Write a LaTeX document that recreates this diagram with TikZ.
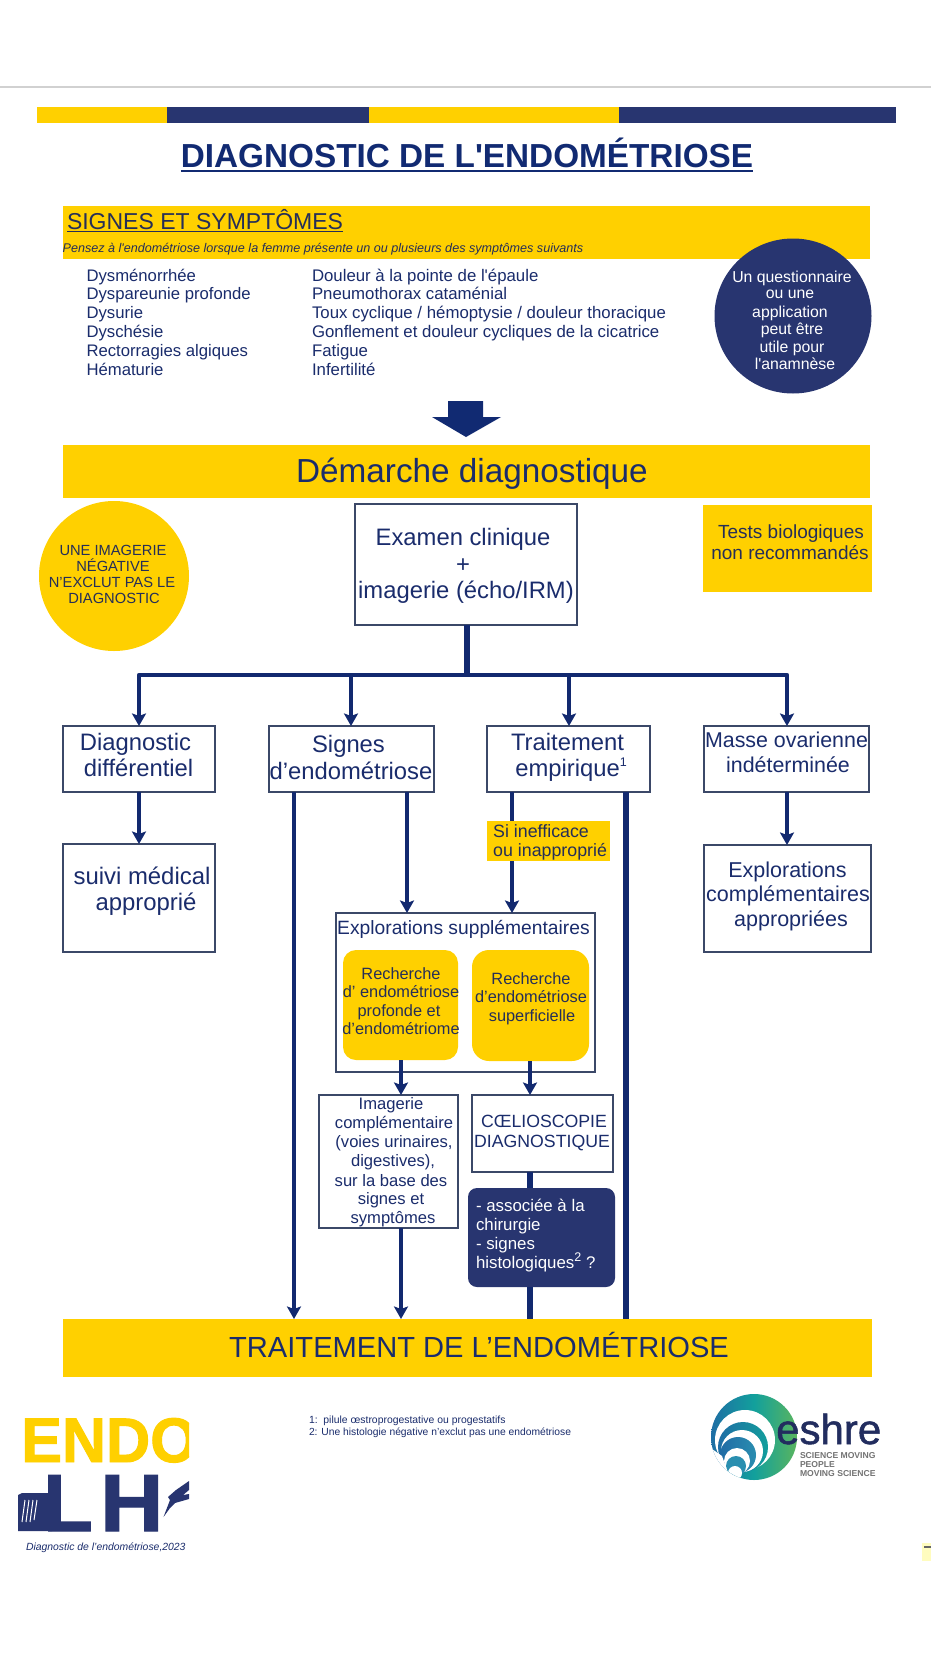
\documentclass[tikz,border=0pt]{standalone}
\usepackage{fontspec}
\setmainfont{Liberation Sans}[Ligatures=TeXOff]
\newfontfamily\eshrefont[FakeBold=1.2]{Liberation Sans}
\newfontfamily\endofont[FakeBold=1.5]{Liberation Sans Bold}
\usetikzlibrary{arrows.meta,shapes.geometric}
\definecolor{ink}{HTML}{1A2C6C}
\definecolor{darkink}{HTML}{252E58}
\definecolor{titleink}{HTML}{112A72}
\definecolor{gold}{HTML}{FFD000}
\definecolor{navy}{HTML}{283570}
\definecolor{wire}{HTML}{12296F}
\definecolor{edge}{HTML}{3B4868}
\definecolor{esblue}{HTML}{1F6AA5}
\definecolor{esteal}{HTML}{12A09C}
\definecolor{esgreen}{HTML}{5FB65A}
\definecolor{esmid}{HTML}{2A8FB0}
\newcommand\fs[1]{\fontsize{#1}{#1}\selectfont}
\newcommand\smallsup[1]{\raisebox{0.42em}{\fs{12.5}#1}}
\newcommand\bx[6]{\node[#6,inner sep=0pt,outer sep=0pt,minimum width={(#4-#2)*1pt},minimum height={(#5-#3)*1pt}] (#1) at ({(#2+#4)/2},{(#3+#5)/2}) {};}
\tikzset{
  tx/.style={inner sep=0pt,outer sep=0pt,anchor=mid,text=ink},
  txl/.style={tx,anchor=mid west},
  band/.style={fill=gold},
  plainbox/.style={draw=edge,line width=1.8pt,fill=white},
  wireline/.style={draw=wire,line width=4.5pt},
  wirearrow/.style={wireline,-{Stealth[width=14pt,length=12.5pt,inset=2.5pt]}},
}
\begin{document}
\begin{tikzpicture}[x=1pt,y=-1pt]
\useasboundingbox (0,0) rectangle (931,1654);
\fill[white] (0,0) rectangle (931,1654);
\draw[draw=black!18,line width=2pt] (0,87) -- (931,87);
% stripe
\fill[gold] (36.8,107) rectangle (167,122.5);
\fill[navy] (167,107) rectangle (368.7,122.5);
\fill[gold] (368.7,107) rectangle (619,122.5);
\fill[navy] (619,107) rectangle (895.7,122.5);
% title
\node[inner sep=0pt,outer sep=0pt,anchor=base,text=titleink,font=\fs{33.3}\bfseries] (title) at (467,167) {DIAGNOSTIC DE L'ENDOMÉTRIOSE};
\draw[titleink,line width=2pt] ([yshift=-4pt]title.base west) -- ([yshift=-4pt]title.base east);
% signes
\bx{signsband}{62.6}{206}{869.5}{259}{band}
\node[inner sep=0pt,outer sep=0pt,anchor=base west,text=darkink,font=\fs{23}] (signstitle) at (67,229) {SIGNES ET SYMPTÔMES};
\draw[darkink,line width=1pt] ([yshift=-2.5pt]signstitle.base west) -- ([yshift=-2.5pt]signstitle.base east);
\node[inner sep=0pt,outer sep=0pt,anchor=base west,text=darkink,font=\fs{12.6}\itshape] (signsnote) at (62.6,252) {Pensez à l'endométriose lorsque la femme présente un ou plusieurs des symptômes suivants};
\node[txl,font=\fs{16.7}] (a1) at (86.5,278.5) {Dysménorrhée};
\node[txl,font=\fs{16.7}] (a2) at (86.5,296.5) {Dyspareunie profonde};
\node[txl,font=\fs{16.7}] (a3) at (86.5,315.5) {Dysurie};
\node[txl,font=\fs{16.7}] (a4) at (86.5,334.5) {Dyschésie};
\node[txl,font=\fs{16.7}] (a5) at (86.5,353.5) {Rectorragies algiques};
\node[txl,font=\fs{16.7}] (a6) at (86.5,372.5) {Hématurie};
\node[txl,font=\fs{16.8}] (b1) at (312,278.5) {Douleur à la pointe de l'épaule};
\node[txl,font=\fs{16.8}] (b2) at (312,296.5) {Pneumothorax cataménial};
\node[txl,font=\fs{16.8}] (b3) at (312,315.5) {Toux cyclique / hémoptysie / douleur thoracique};
\node[txl,font=\fs{16.8}] (b4) at (312,334.5) {Gonflement et douleur cycliques de la cicatrice};
\node[txl,font=\fs{16.8}] (b5) at (312,353.5) {Fatigue};
\node[txl,font=\fs{16.8}] (b6) at (312,372.5) {Infertilité};
% navy ellipse
\node[ellipse,fill=navy,inner sep=0pt,minimum width=157pt,minimum height=155pt] (quest) at (793,316) {};
\node[tx,text=white,font=\fs{15.8}] (q1) at (792,279.5) {Un questionnaire};
\node[tx,text=white,font=\fs{15.8}] (q2) at (790,295.5) {ou une};
\node[tx,text=white,font=\fs{15.8}] (q3) at (790,314.5) {application};
\node[tx,text=white,font=\fs{15.8}] (q4) at (792,331.5) {peut être};
\node[tx,text=white,font=\fs{15.8}] (q5) at (792,349.5) {utile pour};
\node[tx,text=white,font=\fs{15.8}] (q6) at (795,366.5) {l'anamnèse};
% block arrow
\fill[titleink] (448,401) -- (483,401) -- (483,417) -- (501,417) -- (466,437) -- (432,417) -- (448,417) -- cycle;
% demarche
\bx{demband}{62.6}{445}{869.5}{498}{band}
\node[tx,font=\fs{33.3}] (demtext) at (472,480) {Démarche diagnostique};
% yellow circle
\node[circle,fill=gold,inner sep=0pt,minimum size=150pt] (neg) at (114,576) {};
\node[tx,text=darkink,font=\fs{14.7}] (n1) at (113,552.5) {UNE IMAGERIE};
\node[tx,text=darkink,font=\fs{14.7}] (n2) at (113,568.5) {NÉGATIVE};
\node[tx,text=darkink,font=\fs{14.7}] (n3) at (112,585) {N’EXCLUT PAS LE};
\node[tx,text=darkink,font=\fs{14.7}] (n4) at (114,601) {DIAGNOSTIC};
% tests
\bx{tests}{703}{505}{871.7}{592}{band}
\node[inner sep=0pt,anchor=base,text=darkink,font=\fs{19}] (t1) at (791,538) {Tests biologiques};
\node[inner sep=0pt,anchor=base,text=darkink,font=\fs{19}] (t2) at (790,559) {non recommandés};
% main boxes
\coordinate (sigL) at (294,1000);
\coordinate (sigR) at (407,1000);
\coordinate (traL) at (512,1000);
\coordinate (traR) at (626,1000);
\coordinate (deep) at (401,1000);
\coordinate (surf) at (530,1000);
\bx{exam}{355}{504}{577}{625}{plainbox}
\bx{diff}{63}{726}{215}{792}{plainbox}
\bx{sign}{269}{726}{434}{792}{plainbox}
\bx{trait}{487}{726}{650}{792}{plainbox}
\bx{masse}{704}{726}{869}{792}{plainbox}
\bx{suivi}{63}{844}{215}{952}{plainbox}
\bx{explc}{704}{845}{871}{952}{plainbox}
\bx{expls}{336}{913}{595}{1072}{plainbox}
\bx{imag}{319}{1095}{458}{1228}{plainbox}
\bx{coel}{472}{1095}{613}{1172}{plainbox}
\bx{treat}{63}{1319}{871.7}{1376.7}{band}
\coordinate (hub) at (467,675);
\coordinate (hubD) at (139,675);
\coordinate (hubS) at (351,675);
\coordinate (hubT) at (569,675);
\coordinate (hubM) at (787,675);
% connectors
\draw[wireline,line width=5.5pt] (exam.south -| hub) -- (hub);
\draw[wireline,line cap=round,line join=round] (hubD |- diff.north) ++(0,-8) -- (hubD) -- (hubM) -- ++(0,20);
\draw[wirearrow] (hubD) -- (hubD |- diff.north);
\draw[wirearrow] (hubS) -- (hubS |- sign.north);
\draw[wirearrow] (hubT) -- (hubT |- trait.north);
\draw[wirearrow] (hubM) -- (hubM |- masse.north);
\draw[wirearrow] (hubD |- diff.south) -- (hubD |- suivi.north);
\draw[wirearrow] (hubM |- masse.south) -- (hubM |- explc.north);
\draw[wirearrow] (sigL |- sign.south) -- (sigL |- treat.north);
\draw[wirearrow] (sigR |- sign.south) -- (sigR |- expls.north);
\draw[wirearrow] (traL |- trait.south) -- (traL |- expls.north);
\draw[wireline,line width=5.5pt] (traR |- trait.south) -- (traR |- treat.north);
% suppl inner
\bx{deepbox}{343}{950}{458}{1060}{band,rounded corners=13pt}
\bx{surfbox}{472}{950}{589}{1061}{band,rounded corners=17pt}
\draw[wirearrow] (deep |- deepbox.south) -- (deep |- imag.north);
\draw[wirearrow] (surf |- surfbox.south) -- (surf |- coel.north);
\bx{assoc}{468}{1188}{615}{1287}{fill=navy,rounded corners=9pt}
\draw[wireline,line width=5.5pt] (surf |- coel.south) -- (surf |- assoc.north);
\draw[wireline,line width=5.5pt] (surf |- assoc.south) -- (surf |- treat.north);
\draw[wirearrow] (deep |- imag.south) -- (deep |- treat.north);
% si inefficace
\bx{ifbox}{487}{821}{610}{861}{band}
\node[inner sep=0pt,anchor=base west,text=darkink,font=\fs{17.8}] (if1) at (493,837) {Si inefficace};
\node[inner sep=0pt,anchor=base west,text=darkink,font=\fs{17.8}] (if2) at (493,856.5) {ou inapproprié};
% box texts
\node[inner sep=0pt,anchor=base,text=ink,font=\fs{23.8}] (e1) at (463,545) {Examen clinique};
\node[inner sep=0pt,anchor=base,text=ink,font=\fs{23.8}] (e2) at (463,572) {+};
\node[inner sep=0pt,anchor=base,text=ink,font=\fs{23.8}] (e3) at (466,598) {imagerie (écho/IRM)};
\node[inner sep=0pt,anchor=base,text=ink,font=\fs{23.8}] (d1) at (135.5,750) {Diagnostic};
\node[inner sep=0pt,anchor=base,text=ink,font=\fs{23.8}] (d2) at (138.5,776) {différentiel};
\node[inner sep=0pt,anchor=base,text=ink,font=\fs{23.8}] (s1) at (348.5,752) {Signes};
\node[inner sep=0pt,anchor=base,text=ink,font=\fs{23.8}] (s2) at (351,779) {d’endométriose};
\node[inner sep=0pt,anchor=base,text=ink,font=\fs{23.8}] (tr1) at (567.5,750) {Traitement};
\node[inner sep=0pt,anchor=base,text=ink,font=\fs{23.8}] (tr2) at (571,776) {empirique\smallsup{1}};
\node[inner sep=0pt,anchor=base,text=ink,font=\fs{21.4}] (m1) at (786.5,747) {Masse ovarienne};
\node[inner sep=0pt,anchor=base,text=ink,font=\fs{21.4}] (m2) at (788,772) {indéterminée};
\node[inner sep=0pt,anchor=base,text=ink,font=\fs{23.9}] (v1) at (142,884) {suivi médical};
\node[inner sep=0pt,anchor=base,text=ink,font=\fs{23.9}] (v2) at (146,910) {approprié};
\node[inner sep=0pt,anchor=base,text=ink,font=\fs{21.5}] (c1) at (787.5,877) {Explorations};
\node[inner sep=0pt,anchor=base,text=ink,font=\fs{21.5}] (c2) at (788,901) {complémentaires};
\node[inner sep=0pt,anchor=base,text=ink,font=\fs{21.5}] (c3) at (791,926) {appropriées};
\node[inner sep=0pt,anchor=base,text=ink,font=\fs{19.25}] (x0) at (463.5,934) {Explorations supplémentaires};
\node[tx,text=darkink,font=\fs{16.35}] (r1) at (401,976.5) {Recherche};
\node[tx,text=darkink,font=\fs{16.35}] (r2) at (401,995) {d’ endométriose};
\node[tx,text=darkink,font=\fs{16.35}] (r3) at (399,1014) {profonde et};
\node[tx,text=darkink,font=\fs{16.35}] (r4) at (401,1032) {d’endométriome};
\node[tx,text=darkink,font=\fs{16.35}] (u1) at (531,982) {Recherche};
\node[tx,text=darkink,font=\fs{16.35}] (u2) at (531,1000) {d’endométriose};
\node[tx,text=darkink,font=\fs{16.35}] (u3) at (532,1019) {superficielle};
\node[tx,font=\fs{16.6}] (g1) at (391,1107) {Imagerie};
\node[tx,font=\fs{16.6}] (g2) at (394,1126) {complémentaire};
\node[tx,font=\fs{16.6}] (g3) at (394,1145) {(voies urinaires,};
\node[tx,font=\fs{16.6}] (g4) at (393,1164) {digestives),};
\node[tx,font=\fs{16.6}] (g5) at (391,1183.5) {sur la base des};
\node[tx,font=\fs{16.6}] (g6) at (391,1202) {signes et};
\node[tx,font=\fs{16.6}] (g7) at (393,1221) {symptômes};
\node[tx,font=\fs{17.7}] (o1) at (544,1125) {CŒLIOSCOPIE};
\node[tx,font=\fs{17.7}] (o2) at (542,1145) {DIAGNOSTIQUE};
\node[txl,text=white,font=\fs{16.85}] (h1) at (476,1209) {- associée à la};
\node[txl,text=white,font=\fs{16.85}] (h2) at (476,1228) {chirurgie};
\node[txl,text=white,font=\fs{16.85}] (h3) at (476,1247) {- signes};
\node[txl,text=white,font=\fs{16.85}] (h4) at (476,1266) {histologiques\smallsup{2} ?};
\node[inner sep=0pt,anchor=base,text=ink,font=\fs{29.1}] (treattext) at (479,1357) {TRAITEMENT DE L’ENDOMÉTRIOSE};
% footnotes
\node[txl,font=\fs{10.4}] (f1) at (309,1421) {1:\ \ pilule œstroprogestative ou progestatifs};
\node[txl,font=\fs{10.3}] (f2) at (309,1433) {2: Une histologie négative n’exclut pas une endométriose};
\node[txl,font=\fs{10.4}\itshape] (f3) at (26,1548) {Diagnostic de l’endométriose,2023};
% endo logo
\begin{scope}
\clip (0,1400) rectangle (189,1540);
\node[inner sep=0pt,anchor=base west,text=gold,font=\fs{63}\endofont] (endo) at (21,1462) {\scalebox{0.97}[1]{ENDO}};
\node[inner sep=0pt,anchor=base west,text=navy,font=\fs{81}\endofont] (lh) at (43,1531) {L};
\node[inner sep=0pt,anchor=base west,text=navy,font=\fs{81}\endofont] (lh2) at (100,1531) {\scalebox{1.08}[1]{H}};
\end{scope}
\fill[navy] (18,1495) -- (22,1493) -- (52,1493) -- (52,1531) -- (18,1531) -- cycle;
\draw[white,line width=1pt] (22,1522) -- (25,1500) (26,1522) -- (29,1500) (30,1522) -- (33,1500) (34,1520) -- (37,1500);
\fill[navy] (163.5,1517) -- (170,1500) -- (168,1497) -- (176,1490) -- (189,1481) -- (189,1490) -- (183,1495) -- (189,1494) -- (189,1499) -- (175,1503) -- (170,1508) -- cycle;
% eshre logo
\begin{scope}
\clip (754,1437) circle (43);
\shade[left color=esblue,right color=esgreen,middle color=esteal] (708,1390) rectangle (800,1484);
\fill[white] (745,1440) circle (30);
\begin{scope}
\clip (743,1447) circle (25);
\shade[left color=esblue,right color=esteal] (715,1420) rectangle (770,1475);
\end{scope}
\fill[white] (742,1451) circle (21);
\begin{scope}
\clip (738,1455) circle (18);
\shade[left color=esblue,right color=esmid] (718,1435) rectangle (758,1475);
\end{scope}
\fill[white] (737,1461) circle (13);
\fill[esmid] (736,1466) circle (10);
\fill[white] (735,1473) circle (7);
\fill[white] (705,1444) -- (722,1456) -- (733,1486) -- (705,1490) -- cycle;
\end{scope}
\node[inner sep=0pt,anchor=base west,text=navy!85!black,font=\fs{42}\eshrefont] (eshre) at (776,1444) {eshre};
\node[txl,text=black!55,font=\fs{8.6}\bfseries] (es1) at (800,1456) {SCIENCE MOVING};
\node[txl,text=black!55,font=\fs{8.6}\bfseries] (es2) at (800,1465) {PEOPLE};
\node[txl,text=black!55,font=\fs{8.6}\bfseries] (es3) at (800,1474) {MOVING SCIENCE};
\fill[yellow!25] (922,1543) rectangle (931,1561);
\fill[black!60] (924,1546) rectangle (931,1548);
\end{tikzpicture}
\end{document}
